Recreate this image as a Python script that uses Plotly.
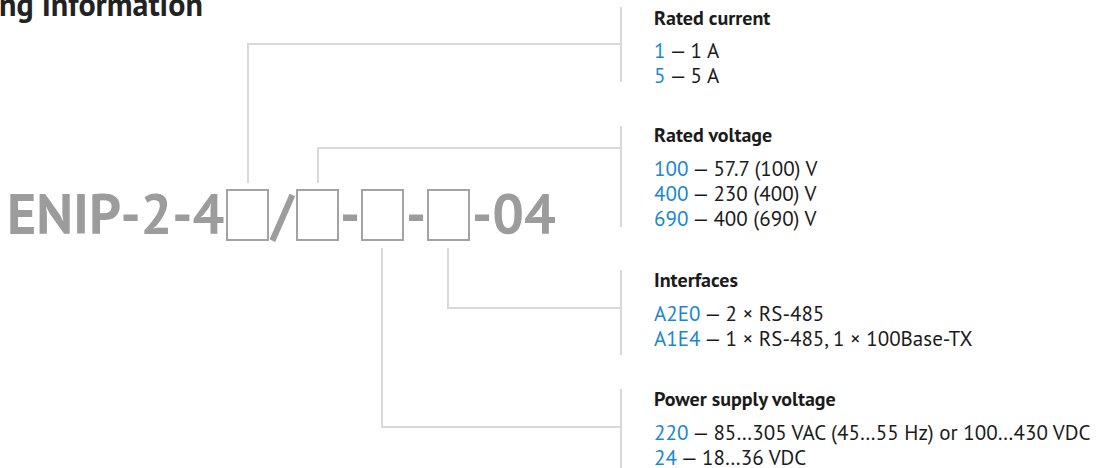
import plotly.graph_objects as go

# ---- data ----
title_text = "Ordering Information"
model_prefix = "ENIP-2-4"
model_separators = ["/", "-", "-"]
model_suffix = "-04"

group_titles = ["Rated current", "Rated voltage", "Interfaces", "Power supply voltage"]
current_codes = ["1", "5"]
current_desc = ["1 A", "5 A"]
voltage_codes = ["100", "400", "690"]
voltage_desc = ["57.7 (100) V", "230 (400) V", "400 (690) V"]
iface_codes = ["A2E0", "A1E4"]
iface_desc = ["2 × RS-485", "1 × RS-485, 1 × 100Base-TX"]
power_codes = ["220", "24"]
power_desc = ["85…305 VAC (45…55 Hz) or 100…430 VDC", "18…36 VDC"]

groups = [
    (group_titles[0], current_codes, current_desc),
    (group_titles[1], voltage_codes, voltage_desc),
    (group_titles[2], iface_codes, iface_desc),
    (group_titles[3], power_codes, power_desc),
]

# ---- layout constants (pixel coordinates of the window) ----
W, H = 1098, 468
BLUE = "#1a87cf"
TXT = "#1b1b1b"
LINE = "#d9d9d9"
GREY = "#9c9c9c"
FONT = "PT Sans, Roboto, Noto Sans, sans-serif"
BODY_SIZE = 21

title_y = [17.5, 135, 280, 399]
sep_x = 621
text_x = 652
row_gap = 25
first_row = 33
box_x = [227, 297, 362, 428]
box_w = 41
box_top, box_bot = 190, 240
conn_x = [248, 318, 448, 382]
conn_h = [44, 148, 308, 427]
conn_from_top = [True, True, False, False]
sep_range = [(7, 82), (126, 227), (270, 355), (389, 470)]

fig = go.Figure()
annotations = []
shapes = []

# title (cut off at the top-left like the reference)
annotations.append(dict(x=205, y=27, xref="x", yref="y", text="<b>" + title_text + "</b>",
                        showarrow=False, xanchor="right", yanchor="bottom",
                        font=dict(family=FONT, size=32, color="#222222")))

# model code
big = dict(family=FONT, size=56, color=GREY)
cy = 213
annotations.append(dict(x=box_x[0] - 1, y=cy, xref="x", yref="y", text="<b>" + model_prefix + "</b>",
                        showarrow=False, xanchor="right", yanchor="middle", font=big))
for i, s in enumerate(model_separators):
    mx = (box_x[i] + box_w + box_x[i + 1]) / 2
    annotations.append(dict(x=mx, y=cy, xref="x", yref="y", text="<b>" + s + "</b>",
                            showarrow=False, xanchor="center", yanchor="middle", font=big))
annotations.append(dict(x=box_x[3] + box_w + 1, y=cy, xref="x", yref="y", text="<b>" + model_suffix + "</b>",
                        showarrow=False, xanchor="left", yanchor="middle", font=big))
for bx in box_x:
    shapes.append(dict(type="rect", xref="x", yref="y", x0=bx, x1=bx + box_w, y0=box_top, y1=box_bot,
                       line=dict(color="#a3a3a3", width=2), fillcolor="rgba(0,0,0,0)"))

# connectors
for i in range(4):
    x = conn_x[i]
    yh = conn_h[i]
    if conn_from_top[i]:
        shapes.append(dict(type="line", xref="x", yref="y", x0=x, x1=x, y0=yh, y1=183,
                           line=dict(color=LINE, width=2)))
    else:
        shapes.append(dict(type="line", xref="x", yref="y", x0=x, x1=x, y0=248, y1=yh,
                           line=dict(color=LINE, width=2)))
    shapes.append(dict(type="line", xref="x", yref="y", x0=x - 1, x1=sep_x, y0=yh, y1=yh,
                       line=dict(color=LINE, width=2)))
    s0, s1 = sep_range[i]
    shapes.append(dict(type="line", xref="x", yref="y", x0=sep_x, x1=sep_x, y0=s0, y1=s1,
                       line=dict(color=LINE, width=2)))

# group texts
for i, (gt, codes, descs) in enumerate(groups):
    ty = title_y[i]
    annotations.append(dict(x=text_x, y=ty, xref="x", yref="y", text="<b>" + gt + "</b>",
                            showarrow=False, xanchor="left", yanchor="middle",
                            font=dict(family=FONT, size=BODY_SIZE - 1, color=TXT)))
    for j, (c, d) in enumerate(zip(codes, descs)):
        annotations.append(dict(x=text_x, y=ty + first_row + j * row_gap, xref="x", yref="y",
                                text=f'<span style="color:{BLUE}">{c}</span> — {d}',
                                showarrow=False, xanchor="left", yanchor="middle",
                                font=dict(family=FONT, size=BODY_SIZE, color=TXT)))

fig.update_layout(
    width=W, height=H,
    margin=dict(l=0, r=0, t=0, b=0),
    paper_bgcolor="white", plot_bgcolor="white",
    xaxis=dict(range=[0, W], visible=False, fixedrange=True),
    yaxis=dict(range=[H, 0], visible=False, fixedrange=True),
    showlegend=False,
    annotations=annotations,
    shapes=shapes,
)
fig.write_html("out.html", config={"displayModeBar": False},
               post_script="document.body.style.margin='0';document.body.style.overflow='hidden';")
